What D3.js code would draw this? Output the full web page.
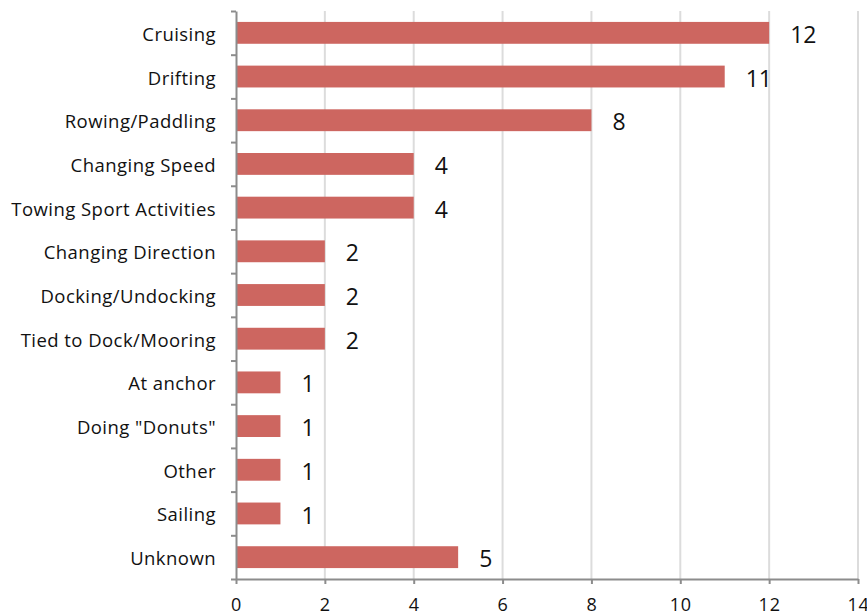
<!DOCTYPE html>
<html>
<head>
<meta charset="utf-8">
<script src="https://cdn.jsdelivr.net/npm/d3@7"></script>
<style>
  body { margin: 0; background: #fff; }
  text { font-family: "Open Sans", sans-serif; }
</style>
</head>
<body>
<div id="chart"></div>
<script>
var categories = ["Cruising", "Drifting", "Rowing/Paddling", "Changing Speed", "Towing Sport Activities",
    "Changing Direction", "Docking/Undocking", "Tied to Dock/Mooring", "At anchor", "Doing \"Donuts\"",
    "Other", "Sailing", "Unknown"];
var counts = [12, 11, 8, 4, 4, 2, 2, 2, 1, 1, 1, 1, 5];
var xTicks = [0, 2, 4, 6, 8, 10, 12, 14];

var width = 867;
var height = 615;
var margin = {top: 11, right: 9, bottom: 36, left: 236};

var svg = d3.select("#chart")
    .append("svg")
    .attr("width", width)
    .attr("height", height);

var xScale = d3.scaleLinear()
    .domain([0, 14])
    .range([margin.left, width - margin.right]);

var yScale = d3.scaleBand()
    .domain(categories)
    .range([margin.top, height - margin.bottom])
    .paddingInner(0.5)
    .paddingOuter(0.25);

// vertical gridlines
svg.append("g")
    .selectAll("line")
    .data(xTicks.slice(1))
    .enter()
    .append("line")
    .attr("x1", function(d) { return xScale(d); })
    .attr("x2", function(d) { return xScale(d); })
    .attr("y1", margin.top)
    .attr("y2", height - margin.bottom)
    .attr("stroke", "#dcdcdc")
    .attr("stroke-width", 2);

// bars
svg.append("g")
    .selectAll("rect")
    .data(counts)
    .enter()
    .append("rect")
    .attr("x", xScale(0) + 1)
    .attr("y", function(d, i) { return yScale(categories[i]); })
    .attr("width", function(d) { return xScale(d) - xScale(0) - 1; })
    .attr("height", yScale.bandwidth())
    .attr("fill", "#cd6660");

// value labels
svg.append("g")
    .selectAll("text")
    .data(counts)
    .enter()
    .append("text")
    .attr("x", function(d) { return xScale(d) + 21; })
    .attr("y", function(d, i) { return yScale(categories[i]) + yScale.bandwidth() / 2 + 2; })
    .attr("dy", "0.35em")
    .attr("font-size", 23)
    .attr("fill", "#111")
    .text(function(d) { return d; });

// bottom axis
var xAxis = d3.axisBottom(xScale)
    .tickValues(xTicks)
    .tickSize(5)
    .tickSizeOuter(0);

var gx = svg.append("g")
    .attr("transform", "translate(0," + (height - margin.bottom) + ")")
    .call(xAxis);
gx.select(".domain").attr("stroke", "#8c8c8c").attr("stroke-width", 2);
gx.selectAll(".tick line").attr("stroke", "#8c8c8c").attr("stroke-width", 2);
gx.selectAll(".tick text")
    .attr("font-size", 18)
    .attr("font-family", "Open Sans, sans-serif")
    .attr("fill", "#111")
    .attr("y", 25.5)
    .attr("dy", "0.35em")
    .attr("letter-spacing", 0.8);

// left axis: ticks sit between categories
var yEdge = d3.scaleLinear()
    .domain([0, categories.length])
    .range([margin.top, height - margin.bottom]);

var yAxis = d3.axisLeft(yEdge)
    .tickValues(d3.range(categories.length + 1))
    .tickSize(5)
    .tickSizeOuter(0)
    .tickFormat("");

var gy = svg.append("g")
    .attr("transform", "translate(" + margin.left + ",0)")
    .call(yAxis);
gy.select(".domain").attr("stroke", "#8c8c8c").attr("stroke-width", 2);
gy.selectAll(".tick line").attr("stroke", "#8c8c8c").attr("stroke-width", 2);

// category labels
svg.append("g")
    .selectAll("text")
    .data(categories)
    .enter()
    .append("text")
    .attr("x", margin.left - 20)
    .attr("y", function(d) { return yScale(d) + yScale.bandwidth() / 2 + 1.5; })
    .attr("dy", "0.35em")
    .attr("text-anchor", "end")
    .attr("font-size", 18.5)
    .attr("letter-spacing", 0.45)
    .attr("fill", "#111")
    .text(function(d) { return d; });
</script>
</body>
</html>
